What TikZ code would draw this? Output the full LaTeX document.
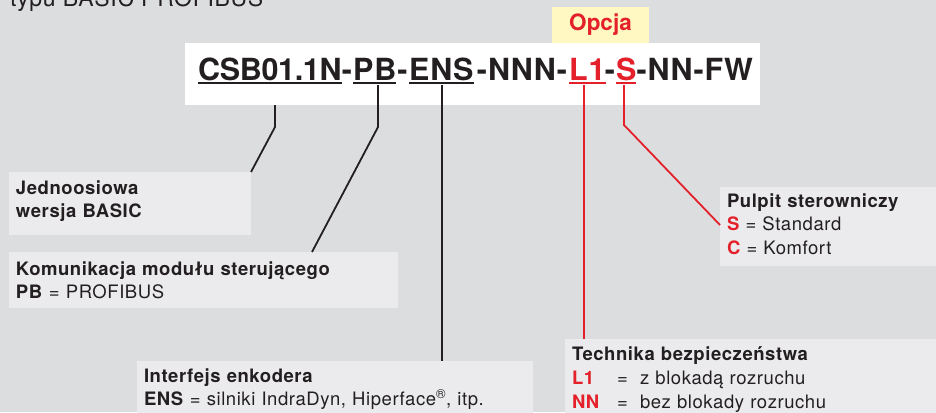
\documentclass[tikz,border=0pt]{standalone}
\usepackage{fontspec}
\setmainfont{TeX Gyre Heros}[LetterSpace=3]
\newfontfamily\codefont{TeX Gyre Heros}[LetterSpace=3]
\newfontfamily\codefontn{TeX Gyre Heros}[LetterSpace=-1]
\newfontfamily\opcfont{TeX Gyre Heros}
\definecolor{bgray}{HTML}{DCDDDF}
\definecolor{boxgray}{HTML}{EBEBED}
\definecolor{ink}{HTML}{231F20}
\definecolor{cred}{HTML}{E4202A}
\definecolor{yellowc}{HTML}{FFF8C3}
\begin{document}
\begin{tikzpicture}[x=1pt,y=-1pt,
  codeseg/.style={anchor=base west, inner sep=0pt, outer sep=0pt, text=ink,
    font=\codefont\bfseries\fontsize{30.5}{36}\selectfont},
  lblbox/.style={anchor=north west, fill=boxgray, inner xsep=7pt, inner ysep=0pt,
    outer sep=0pt, align=left, text=ink},
  blk/.style={draw=ink, line width=1.8pt},
  redln/.style={draw=cred, line width=1.8pt},
  ulblk/.style={draw=ink, line width=1.3pt},
  ulred/.style={draw=cred, line width=1.3pt}]
\path[use as bounding box, fill=bgray] (0,0) rectangle (936,412);

% title (cut at top)
\node[anchor=base west, inner sep=0pt, text=ink, font=\fontsize{23}{27}\selectfont] (ttl) at (10,7) {typu BASIC PROFIBUS};

% white code box and option label
\node[fill=white, anchor=north west, minimum width=575pt, minimum height=62pt, inner sep=0pt, outer sep=0pt] (wbox) at (185,43) {};
\node[fill=yellowc, anchor=north west, minimum width=97pt, minimum height=36pt, inner sep=0pt, outer sep=0pt,
  text=cred, font=\opcfont\bfseries\fontsize{22.5}{26}\selectfont] (opc) at (552,7) {Opcja};

% type code
\node[codeseg, font=\codefontn\bfseries\fontsize{30.5}{36}\selectfont] (s1) at (198,80) {CSB01.1N};
\node[codeseg, anchor=base] (h1) at (347,80) {-};
\node[codeseg] (s2) at (353,80) {PB};
\node[codeseg, anchor=base] (h2) at (402.5,80) {-};
\node[codeseg] (s3) at (409,80) {ENS};
\node[codeseg, anchor=base] (h3) at (522,80) {-NNN-};
\node[codeseg, text=cred] (s5) at (569,80) {L1};
\node[codeseg, anchor=base] (h5) at (610,80) {-};
\node[codeseg, text=cred] (s6) at (616,80) {S};
\node[codeseg, anchor=base east] (h6) at (753,80) {-NN-FW};

\draw[ulblk] ([yshift=-3pt]s1.base west) -- ([yshift=-3pt]s1.base east);
\draw[ulblk] ([yshift=-3pt]s2.base west) -- ([yshift=-3pt]s2.base east);
\draw[ulblk] ([yshift=-3pt]s3.base west) -- ([yshift=-3pt]s3.base east);
\draw[ulred] ([yshift=-3pt]s5.base west) -- ([yshift=-3pt]s5.base east);
\draw[ulred] ([yshift=-3pt]s6.base west) -- ([yshift=-3pt]s6.base east);

% label boxes
\node[lblbox, text width=228pt, font=\fontsize{18.5}{23}\selectfont] (jbox) at (9,172)
  {\rule{0pt}{22pt}\textbf{Jednoosiowa}\\\textbf{wersja BASIC}\rule[-18pt]{0pt}{0pt}};
\node[lblbox, text width=375pt, font=\fontsize{18.5}{22.5}\selectfont] (kbox) at (9,252)
  {\rule{0pt}{23.5pt}\textbf{Komunikacja modułu sterującego}\\\textbf{PB} = PROFIBUS\rule[-10pt]{0pt}{0pt}};
\node[lblbox, text width=382pt, font=\fontsize{18.5}{23}\selectfont] (ibox) at (137,361)
  {\rule{0pt}{21pt}\textbf{Interfejs enkodera}\\\textbf{ENS} = silniki IndraDyn, Hiperface\textsuperscript{®}, itp.\rule[-10pt]{0pt}{0pt}};
\node[lblbox, text width=366pt, font=\fontsize{18.5}{24}\selectfont] (tbox) at (565,339)
  {\rule{0pt}{21pt}\textbf{Technika bezpieczeństwa}\\
   \makebox[45pt][l]{\textbf{\textcolor{cred}{L1}}}\makebox[23pt][l]{=}z blokadą rozruchu\\
   \makebox[45pt][l]{\textbf{\textcolor{cred}{NN}}}\makebox[23pt][l]{=}bez blokady rozruchu\rule[-8pt]{0pt}{0pt}};
\node[lblbox, text width=206pt, font=\fontsize{18.5}{23.5}\selectfont] (pbox) at (720,187)
  {\rule{0pt}{20pt}\textbf{Pulpit sterowniczy}\\
   \textbf{\textcolor{cred}{S}} = Standard\\
   \textbf{\textcolor{cred}{C}} = Komfort\rule[-12pt]{0pt}{0pt}};

% connectors
\draw[blk] ([xshift=77pt]s1.base west |- wbox.south) -- ++(0,22) -- (jbox.north east);
\draw[blk] ([xshift=25pt,yshift=-5pt]s2.base west) -- ([xshift=25pt,yshift=-47pt]s2.base west) -- ([xshift=303pt]kbox.north west);
\draw[blk] ([xshift=33pt,yshift=-5pt]s3.base west) coordinate (e1) -- (e1 |- ibox.north);
\draw[redln] ([xshift=15pt,yshift=-5pt]s5.base west) coordinate (e2) -- (e2 |- tbox.north);
\draw[redln] ([xshift=8pt,yshift=-5pt]s6.base west) -- ([xshift=8pt,yshift=-45pt]s6.base west) -- ([yshift=-38pt]pbox.north west);
\end{tikzpicture}
\end{document}
